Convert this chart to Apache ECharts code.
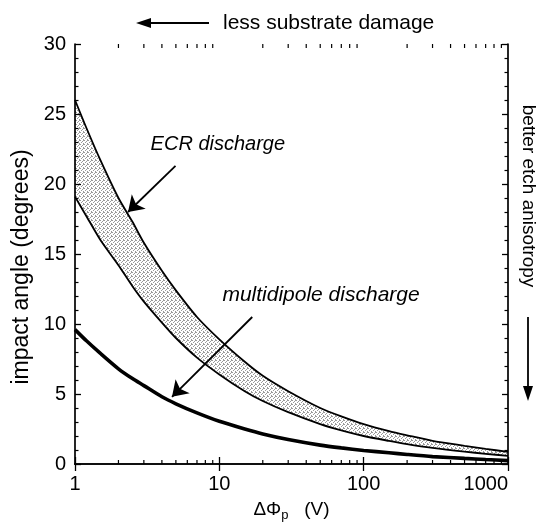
<!DOCTYPE html>
<html><head><meta charset="utf-8">
<script src="https://cdn.jsdelivr.net/npm/echarts@6/dist/echarts.min.js"></script>
<style>html,body{margin:0;padding:0;background:#fff}#c{width:538px;height:527px}</style>
</head><body><div id="c"></div>
<script>
// ---- data ----
const xVals       = [1, 1.2, 1.5, 2, 2.5, 3, 4, 5, 7, 10, 15, 20, 30, 50, 70, 100, 150, 200, 300, 500, 700, 1000];
const ecrUpper    = [26.0, 24.0, 21.7, 19.0, 17.3, 15.8, 13.8, 12.4, 10.5, 8.9, 7.3, 6.3, 5.2, 4.0, 3.4, 2.85, 2.35, 2.05, 1.65, 1.3, 1.08, 0.87];
const ecrLower    = [19.1, 17.7, 16.0, 14.2, 12.7, 11.6, 10.1, 9.0, 7.6, 6.4, 5.2, 4.5, 3.7, 2.85, 2.4, 2.0, 1.65, 1.42, 1.15, 0.88, 0.73, 0.58];
const multidipole = [9.6, 8.8, 7.9, 6.8, 6.1, 5.6, 4.8, 4.3, 3.65, 3.05, 2.5, 2.15, 1.75, 1.35, 1.15, 0.97, 0.8, 0.68, 0.53, 0.4, 0.32, 0.24];
const xMinorTicks = [2,3,4,5,6,7,8,9,20,30,40,50,60,70,80,90,200,300,400,500,600,700,800,900];
const ecrArrow    = [[4.97, 21.3], [2.33, 18.0]];
const multiArrow  = [[16.9, 10.5], [4.7, 4.8]];
const ecrLabelAt  = [3.34, 22.8];
const multiLabelAt= [10.5, 12.05];
const ecrLabel    = 'ECR discharge';
const multiLabel  = 'multidipole discharge';
const topNote     = 'less substrate damage';
const rightNote   = 'better etch anisotropy';
const xName       = '{a|ΔΦ}{s|p}{a|   (V)}';
const yName       = 'impact angle (degrees)';

const FONT = '"Liberation Sans", Arial, Helvetica, sans-serif';

// stipple pattern for the ECR band
const pat = document.createElement('canvas'); pat.width = 4; pat.height = 4;
const pc = pat.getContext('2d');
pc.fillStyle = '#fff'; pc.fillRect(0,0,4,4);
pc.fillStyle = '#9a9a9a';
[[0,0],[2,1],[1,2],[3,3],[3,0]].forEach(p => pc.fillRect(p[0],p[1],1,1));

const chart = echarts.init(document.getElementById('c'), null, {renderer: 'canvas'});

const axisCommonX = {
  type: 'log', logBase: 10, min: 1, max: 1000,
  axisLine: {show: true, lineStyle: {color: '#000', width: 1.7}},
  axisTick: {show: true, inside: true, length: 7, lineStyle: {color: '#000', width: 1.3}},
  splitLine: {show: false}, z: 5
};
const axisCommonY = {
  type: 'value', min: 0, max: 30, interval: 5,
  axisLine: {show: true, lineStyle: {color: '#000', width: 1.7}},
  axisTick: {show: true, inside: true, length: 6, lineStyle: {color: '#000', width: 1.3}},
  minorTick: {show: true, splitNumber: 5, length: 3.5, lineStyle: {color: '#000', width: 1.2}},
  splitLine: {show: false}, z: 5
};

const pairs = arr => xVals.map((x, i) => [x, arr[i]]);
const arrowMark = pts => ({
  silent: true, symbol: ['none', 'arrow'], symbolSize: 15, label: {show: false},
  lineStyle: {color: '#000', width: 1.8, type: 'solid', opacity: 1},
  itemStyle: {color: '#000'},
  data: [[{coord: pts[0]}, {coord: pts[1]}]]
});

chart.setOption({
  animation: false,
  backgroundColor: '#fff',
  textStyle: {fontFamily: FONT},
  grid: {left: 75, right: 30, top: 44, bottom: 52, containLabel: false},
  xAxis: [
    Object.assign({}, axisCommonX, {
      position: 'bottom',
      axisLabel: {show: true, color: '#000', fontSize: 20, fontFamily: FONT, margin: 10, alignMaxLabel: 'right',
                  formatter: v => String(v)},
      name: xName, nameLocation: 'middle', nameGap: 33,
      nameTextStyle: {color: '#000', rich: {
        a: {fontSize: 19, fontFamily: FONT, color: '#000'},
        s: {fontSize: 13, fontFamily: FONT, color: '#000', padding: [12, 0, 0, 0]}
      }}
    }),
    Object.assign({}, axisCommonX, {position: 'top', axisLabel: {show: false}})
  ],
  yAxis: [
    Object.assign({}, axisCommonY, {
      position: 'left',
      axisLabel: {show: true, color: '#000', fontSize: 20, fontFamily: FONT, margin: 9},
      name: yName, nameLocation: 'middle', nameGap: 37, nameRotate: 90,
      nameTextStyle: {color: '#000', fontSize: 23, fontFamily: FONT, padding: [0, 26, 0, 0]}
    }),
    Object.assign({}, axisCommonY, {position: 'right', axisLabel: {show: false}})
  ],
  series: [
    {type: 'line', name: 'ECR band fill', data: pairs(ecrUpper), symbol: 'none', smooth: 0.25,
     lineStyle: {opacity: 0}, areaStyle: {color: {image: pat, repeat: 'repeat'}, opacity: 1}, silent: true, z: 1},
    {type: 'line', name: 'ECR band cut', data: pairs(ecrLower), symbol: 'none', smooth: 0.25,
     lineStyle: {opacity: 0}, areaStyle: {color: '#fff', opacity: 1}, silent: true, z: 2},
    {type: 'line', name: 'ECR upper', data: pairs(ecrUpper), symbol: 'none', smooth: 0.25,
     lineStyle: {color: '#000', width: 1.8}, z: 3, markLine: arrowMark(ecrArrow)},
    {type: 'line', name: 'ECR lower', data: pairs(ecrLower), symbol: 'none', smooth: 0.25,
     lineStyle: {color: '#000', width: 1.8}, z: 3},
    {type: 'line', name: 'multidipole', data: pairs(multidipole), symbol: 'none', smooth: 0.25,
     lineStyle: {color: '#000', width: 3.6}, z: 3, markLine: arrowMark(multiArrow)},
    {type: 'custom', name: 'x minor ticks', silent: true, z: 6, clip: false,
     data: xMinorTicks.map(v => [v, 0]), encode: {x: 0, y: 1},
     renderItem: function (params, api) {
       const v = api.value(0);
       const b = api.coord([v, 0]);
       const t = api.coord([v, 30]);
       const st = {stroke: '#000', lineWidth: 1.2};
       return {type: 'group', children: [
         {type: 'line', shape: {x1: b[0], y1: b[1], x2: b[0], y2: b[1] - 4}, style: st},
         {type: 'line', shape: {x1: t[0], y1: t[1], x2: t[0], y2: t[1] + 4}, style: st}
       ]};
     }}
  ]
});

const P = c => chart.convertToPixel({xAxisIndex: 0, yAxisIndex: 0}, c);
const e = P(ecrLabelAt), m = P(multiLabelAt);
chart.setOption({
  graphic: [
    {type: 'text', z: 100, x: e[0], y: e[1], style: {text: ecrLabel, fill: '#000', font: 'italic 20px ' + FONT, textAlign: 'left', textVerticalAlign: 'middle'}},
    {type: 'text', z: 100, x: m[0], y: m[1], style: {text: multiLabel, fill: '#000', font: 'italic 21px ' + FONT, textAlign: 'left', textVerticalAlign: 'middle'}},
    {type: 'text', z: 100, x: 223, y: 23, style: {text: topNote, fill: '#000', font: '21px ' + FONT, textAlign: 'left', textVerticalAlign: 'middle'}},
    {type: 'line', z: 100, shape: {x1: 209, y1: 23, x2: 146, y2: 23}, style: {stroke: '#000', lineWidth: 1.8}},
    {type: 'polygon', z: 100, shape: {points: [[136, 23], [151, 18], [151, 28]]}, style: {fill: '#000'}},
    {type: 'text', z: 100, x: 528, y: 196, rotation: -Math.PI / 2, style: {text: rightNote, fill: '#000', font: '19px ' + FONT, textAlign: 'center', textVerticalAlign: 'middle'}},
    {type: 'line', z: 100, shape: {x1: 528, y1: 317, x2: 528, y2: 388}, style: {stroke: '#000', lineWidth: 1.8}},
    {type: 'polygon', z: 100, shape: {points: [[528, 401], [523, 386], [533, 386]]}, style: {fill: '#000'}}
  ]
});
</script>
</body></html>
